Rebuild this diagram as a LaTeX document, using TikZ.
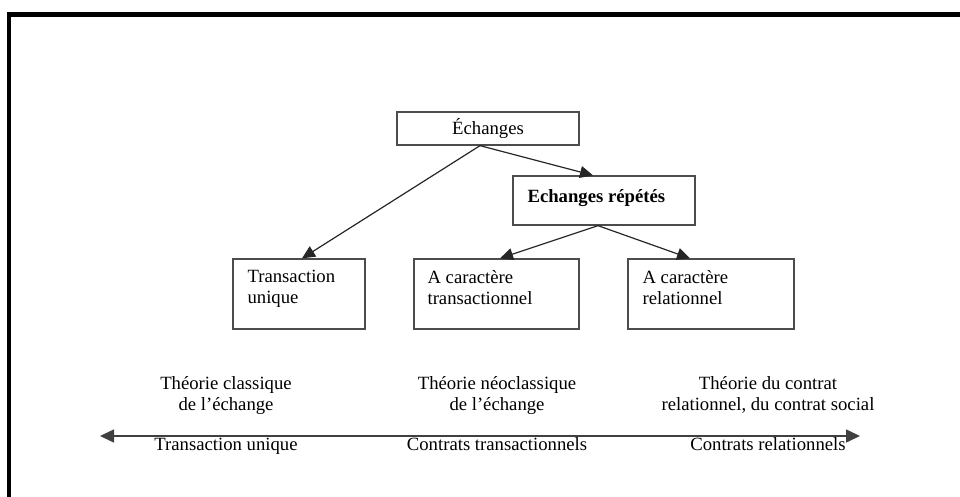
\documentclass[tikz,border=0pt]{standalone}
\usepackage{fontspec}
\setmainfont{Liberation Serif}
\usetikzlibrary{arrows.meta}
\begin{document}
\begin{tikzpicture}[x=1pt,y=-1pt,
  font=\fontsize{18.7pt}{21pt}\selectfont,
  box/.style={draw=black!70, line width=1.3pt, inner sep=0pt},
  boxtext/.style={inner sep=0pt, align=left, anchor=north west},
  theory/.style={inner sep=0pt, align=center, anchor=north},
  axislabel/.style={inner sep=0pt, anchor=base},
  link/.style={draw=black!85, line width=1.2pt, -{Triangle[length=13pt,width=12pt]}},
  axis/.style={draw=black!75, line width=1.5pt, {Triangle[length=14pt,width=13pt]}-{Triangle[length=14pt,width=13pt]}}]
\useasboundingbox (0,0) rectangle (960,497);
% outer frame: top and left edges only
\draw[line width=4.5pt, line join=miter] (970,14.5) -- (9,14.5) -- (9,505);

% tree of boxes
\node[box, minimum width=182pt, minimum height=33pt] (ech) at (488,128.5) {Échanges};
\node[box, minimum width=182pt, minimum height=49pt] (rep) at (604,200.5) {};
\node[inner sep=0pt, anchor=base west] (reptext) at ([xshift=15pt,yshift=-1.5pt]rep.west) {\bfseries Echanges répétés};

\node[box, minimum width=132pt, minimum height=70pt] (tu) at (299,294) {};
\node[box, minimum width=165pt, minimum height=70pt] (ct) at (496.5,294) {};
\node[box, minimum width=166pt, minimum height=70pt] (cr) at (711,294) {};
\node[boxtext] (tutext) at ([xshift=15pt,yshift=-12pt]tu.north west) {Transaction\\unique};
\node[boxtext] (cttext) at ([xshift=14pt,yshift=-12pt]ct.north west) {A caractère\\transactionnel};
\node[boxtext] (crtext) at ([xshift=15pt,yshift=-12pt]cr.north west) {A caractère\\relationnel};

\draw[link] ([xshift=-8pt]ech.south) -- ([xshift=3pt]tu.north);
\draw[link] ([xshift=-8pt]ech.south) -- ([xshift=-11pt]rep.north);
\draw[link] ([xshift=-6pt]rep.south) -- ([xshift=3.5pt]ct.north);
\draw[link] ([xshift=-6pt]rep.south) -- ([xshift=-21pt]cr.north);

% theories above the axis
\node[theory] (th1) at (226,376) {Théorie classique\\de l’échange};
\node[theory] (th2) at (497,376) {Théorie néoclassique\\de l’échange};
\node[theory] (th3) at (768,376) {Théorie du contrat\\relationnel, du contrat social};

% double-headed axis
\coordinate (axL) at (100,436);
\coordinate (axR) at (860,436);
\draw[axis] (axL) -- (axR);

\node[axislabel] (ax1) at (226,450) {Transaction unique};
\node[axislabel] (ax2) at (497,450) {Contrats transactionnels};
\node[axislabel] (ax3) at (768,450) {Contrats relationnels};
\end{tikzpicture}
\end{document}
